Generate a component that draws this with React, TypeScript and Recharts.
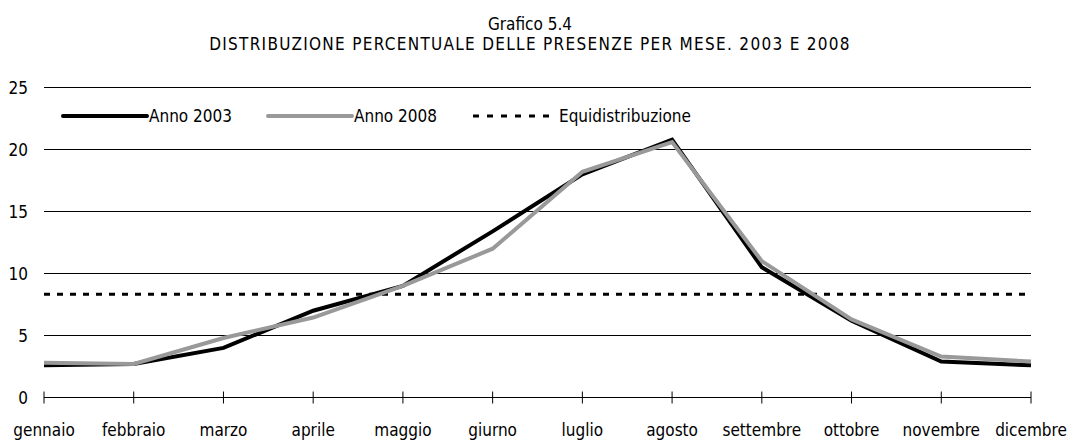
import { LineChart, Line, XAxis, YAxis, CartesianGrid } from 'recharts';

const months = ['gennaio', 'febbraio', 'marzo', 'aprile', 'maggio', 'giurno', 'luglio', 'agosto', 'settembre', 'ottobre', 'novembre', 'dicembre'];
const anno2003 = [2.6, 2.7, 4.0, 7.0, 9.0, 13.4, 18.0, 20.8, 10.5, 6.2, 2.9, 2.6];
const anno2008 = [2.8, 2.7, 4.8, 6.45, 9.0, 12.0, 18.2, 20.6, 11.0, 6.3, 3.3, 2.9];
const equi = [8.33, 8.33, 8.33, 8.33, 8.33, 8.33, 8.33, 8.33, 8.33, 8.33, 8.33, 8.33];
const yTicks = [0, 5, 10, 15, 20, 25];

const FONT = '"Liberation Sans Narrow", "Arial Narrow", "DejaVu Sans Condensed", sans-serif';

const data = months.map((m, i) => ({
  month: m,
  a2003: anno2003[i],
  a2008: anno2008[i],
  equi: equi[i],
}));

const legendItems = [
  { label: 'Anno 2003', color: '#000', width: 4, dash: undefined },
  { label: 'Anno 2008', color: '#999', width: 4, dash: undefined },
  { label: 'Equidistribuzione', color: '#000', width: 3, dash: '6 8' },
];

function ChartLegend() {
  return (
    <div style={{ position: 'absolute', top: 106, left: 61, display: 'flex', fontFamily: FONT, fontSize: 17, lineHeight: '20px', color: '#000' }}>
      {legendItems.map((it) => (
        <div key={it.label} style={{ width: 205, display: 'flex', alignItems: 'center' }}>
          <svg width={88} height={8} style={{ flex: 'none' }}>
            <line x1={2} x2={86} y1={4} y2={4} stroke={it.color} strokeWidth={it.width}
              strokeDasharray={it.dash} strokeLinecap={it.dash ? 'butt' : 'round'} />
          </svg>
          <span>{it.label}</span>
        </div>
      ))}
    </div>
  );
}

// tick mark crosses the axis, label sits below
function MonthTick(props: any) {
  const { x, y, payload } = props;
  return (
    <g>
      <path d={`M${x},${y - 6}V${y + 6}`} stroke="#000" strokeWidth={1} fill="none" />
      <text x={x} y={y + 38} textAnchor="middle" fontFamily={FONT} fontSize={17} fill="#000">
        {payload.value}
      </text>
    </g>
  );
}

export default function App() {
  return (
    <div style={{ position: 'absolute', top: 0, left: 0, width: 1068, height: 441, background: '#fff' }}>
      <LineChart width={1068} height={441} data={data} margin={{ top: 87.5, right: 37, left: 0, bottom: 0 }}>
        <CartesianGrid vertical={false} stroke="#000" strokeWidth={1} />
        <XAxis dataKey="month" height={43.5} interval={0} tickLine={false} tickSize={0} tickMargin={0}
          axisLine={{ stroke: '#000' }} tick={MonthTick} />
        <YAxis domain={[0, 25]} ticks={yTicks} width={44} axisLine={false} tickLine={false} tickSize={0}
          tickMargin={16} tick={{ fontFamily: FONT, fontSize: 17, fill: '#000' }} />
        <Line type="linear" dataKey="equi" stroke="#000" strokeWidth={3} strokeDasharray="6 7" dot={false} isAnimationActive={false} />
        <Line type="linear" dataKey="a2003" stroke="#000" strokeWidth={4} dot={false} isAnimationActive={false} />
        <Line type="linear" dataKey="a2008" stroke="#999" strokeWidth={4} dot={false} isAnimationActive={false} />
      </LineChart>
      <div style={{ position: 'absolute', top: 14, left: 0, width: 1060, textAlign: 'center', fontFamily: FONT, fontSize: 17, lineHeight: '20px', color: '#000' }}>
        <div>Grafico 5.4</div>
        <div style={{ letterSpacing: 1.3 }}>DISTRIBUZIONE PERCENTUALE DELLE PRESENZE PER MESE. 2003 E 2008</div>
      </div>
      <ChartLegend />
    </div>
  );
}
